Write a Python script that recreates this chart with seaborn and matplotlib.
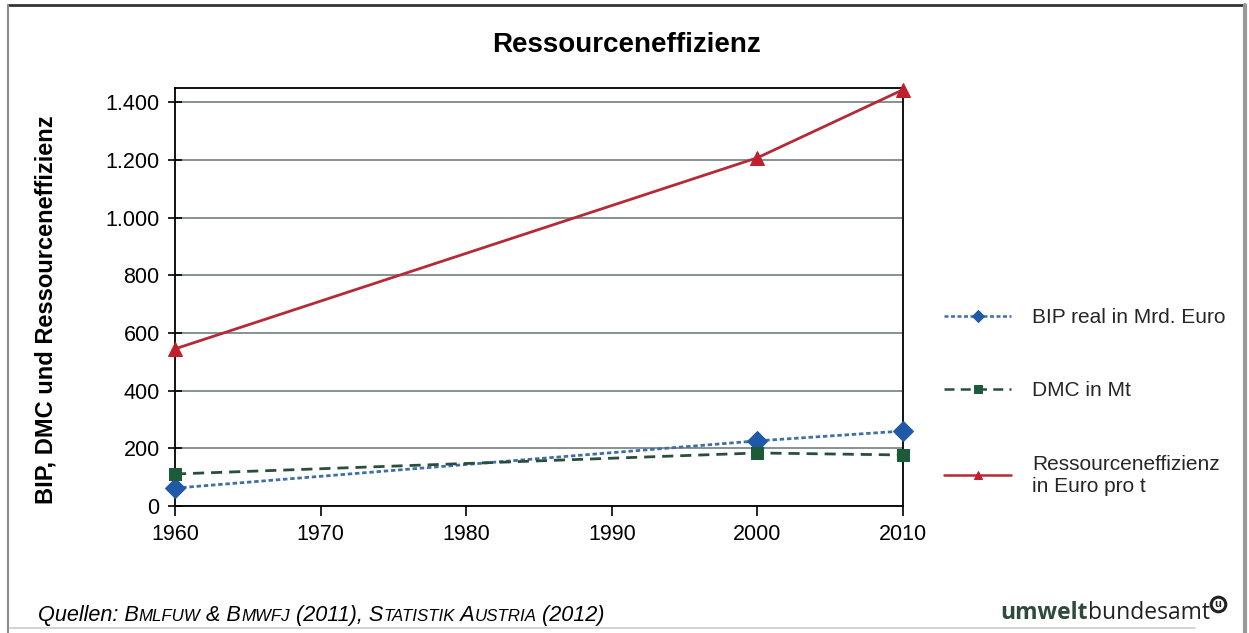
import matplotlib
matplotlib.use("Agg")
import matplotlib.pyplot as plt
from matplotlib.lines import Line2D
from matplotlib.ticker import FuncFormatter, MultipleLocator
from matplotlib.transforms import IdentityTransform
import seaborn as sns
import pandas as pd

# --- data -------------------------------------------------------------
years = [1960, 2000, 2010]
bip_real = [62, 226, 260]            # BIP real in Mrd. Euro
dmc = [111, 184, 177]                # DMC in Mt
ressourceneffizienz = [545, 1208, 1444]  # Euro pro t

series_labels = ["BIP real in Mrd. Euro", "DMC in Mt",
                 "Ressourceneffizienz\nin Euro pro t"]
x_ticks = [1960, 1970, 1980, 1990, 2000, 2010]
title = "Ressourceneffizienz"
y_label = "BIP, DMC und Ressourceneffizienz"

df = pd.concat([
    pd.DataFrame({"Jahr": years, "Wert": bip_real, "Reihe": series_labels[0]}),
    pd.DataFrame({"Jahr": years, "Wert": dmc, "Reihe": series_labels[1]}),
    pd.DataFrame({"Jahr": years, "Wert": ressourceneffizienz, "Reihe": series_labels[2]}),
])

# --- style ------------------------------------------------------------
sns.set_theme(style="white")
plt.rcParams["font.family"] = ["Liberation Sans", "DejaVu Sans"]

W, H, DPI = 1249, 633, 100
fig = plt.figure(figsize=(W / DPI, H / DPI), dpi=DPI)
fig.patch.set_facecolor("white")

# axes box in pixel terms
left, right, bottom, top = 175, 903, 506, 88
ax = fig.add_axes([left / W, 1 - bottom / H, (right - left) / W, (bottom - top) / H])

styles = {
    series_labels[0]: dict(color="#3f6fa6", marker="D", ls=(0, (1.6, 1.0)),
                           mfc="#1f5aa6", ms=10),
    series_labels[1]: dict(color="#2a4e3c", marker="s", ls=(0, (4, 2.5)),
                           mfc="#1c5a3a", ms=9),
    series_labels[2]: dict(color="#b42a36", marker="^", ls="-",
                           mfc="#c0202c", ms=10),
}

for name in series_labels:
    st = styles[name]
    sns.lineplot(data=df[df["Reihe"] == name], x="Jahr", y="Wert", ax=ax,
                 color=st["color"], marker=st["marker"], linestyle=st["ls"],
                 markersize=st["ms"], markerfacecolor=st["mfc"],
                 markeredgecolor=st["mfc"], linewidth=2.0, label=name,
                 zorder=3, clip_on=False)

ax.set_xlim(1960, 2010)
ax.set_ylim(0, 1450)
ax.set_xticks(x_ticks)
ax.yaxis.set_major_locator(MultipleLocator(200))
ax.yaxis.set_major_formatter(FuncFormatter(lambda v, p: f"{v:,.0f}".replace(",", ".")))
ax.set_xlabel("")
ax.set_ylabel("")

ax.grid(axis="y", color="#7d8a8a", linewidth=1.3)
ax.grid(axis="x", visible=False)
ax.set_axisbelow(True)
for sp in ax.spines.values():
    sp.set_visible(True)
    sp.set_color("black")
    sp.set_linewidth(1.3)

ax.tick_params(axis="y", direction="inout", length=10, width=1.2, color="black",
               labelsize=15.5, pad=6, left=True)
ax.tick_params(axis="x", direction="out", length=7, width=1.2, color="black",
               labelsize=15.5, pad=6, bottom=True)
for lbl in ax.get_xticklabels() + ax.get_yticklabels():
    lbl.set_color("black")

# legend to the right of the plot
handles, labels = ax.get_legend_handles_labels()
ax.get_legend().remove()
leg = fig.legend(handles, labels, loc="upper left",
                 bbox_to_anchor=(936 / W, 1 - 300 / H),
                 frameon=False, fontsize=15, handlelength=3.2,
                 handletextpad=1.0, labelspacing=2.6, borderaxespad=0)
for h in leg.legend_handles:
    h.set_markersize(6)
    h.set_linewidth(1.8)

# title and axis label
fig.text(627 / W, 1 - 45 / H, title, ha="center", va="center",
         fontsize=20, fontweight="bold", color="black")
fig.text(46 / W, 1 - 310 / H, y_label, ha="center", va="center",
         rotation=90, fontsize=17, fontweight="bold", color="black")

# source line with small caps
fig.canvas.draw()
renderer = fig.canvas.get_renderer()


def draw_runs(x, y, runs, **kw):
    for txt, size in runs:
        t = fig.text(x, y, txt, transform=IdentityTransform(), fontsize=size,
                     va="baseline", ha="left", **kw)
        x += t.get_window_extent(renderer).width
    return x


big, small = 15.6, 12.2
draw_runs(38, H - 621, [
    ("Quellen: B", big), ("MLFUW", small), (" & B", big), ("MWFJ", small),
    (" (2011), S", big), ("TATISTIK", small), (" A", big), ("USTRIA", small),
    (" (2012)", big)], style="italic", color="black")

# publisher mark
x_end = draw_runs(1000, H - 619, [("umwelt", 16.5)], fontweight="bold",
                  color="#2f4a3c", family=["Open Sans", "DejaVu Sans"])
x_end = draw_runs(x_end, H - 619, [("bundesamt", 16.5)], color="#222222",
                  family=["Open Sans", "DejaVu Sans"])
cx, cy = x_end + 8, H - 604
fig.add_artist(Line2D([cx / W], [cy / H], transform=fig.transFigure,
                      marker="o", markersize=10.5, markerfacecolor="none",
                      markeredgecolor="#222222", markeredgewidth=2.2))
fig.text(cx, cy, "u", transform=IdentityTransform(), fontsize=8,
         fontweight="bold", ha="center", va="center", color="#222222")

# outer frame
frame = [
    ((8, 1245), (5, 5), "#333333", 2.0),
    ((8, 8), (5, 633), "#8a8a8a", 1.5),
    ((1245, 1245), (5, 633), "#999999", 3.0),
    ((10, 1195), (628, 628), "#cccccc", 1.2),
]
for xs, ys, c, lw in frame:
    fig.add_artist(Line2D([x / W for x in xs], [1 - y / H for y in ys],
                          transform=fig.transFigure, color=c, linewidth=lw))

fig.savefig("out.png", dpi=DPI, facecolor="white")
